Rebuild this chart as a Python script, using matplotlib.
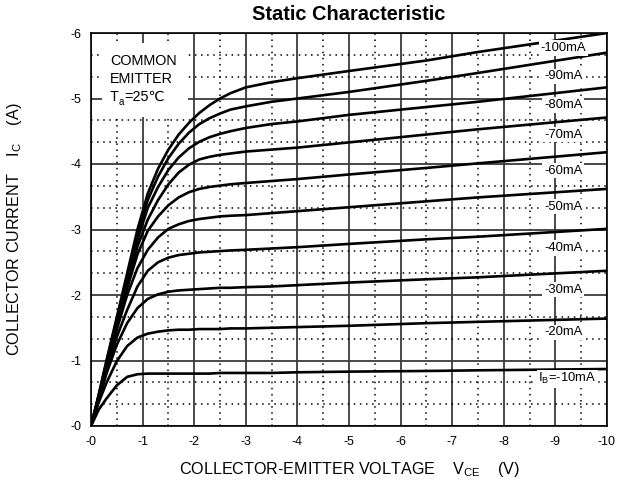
import matplotlib
matplotlib.use("Agg")
import matplotlib.pyplot as plt
from matplotlib.ticker import AutoMinorLocator
from matplotlib.patches import Rectangle

plt.rcParams['font.family'] = ['Liberation Sans', 'DejaVu Sans']
plt.rcParams['mathtext.fontset'] = 'custom'
plt.rcParams['mathtext.rm'] = 'Liberation Sans'
plt.rcParams['mathtext.it'] = 'Liberation Sans'

# ---- data (magnitudes; axes labelled negative) ----
vce = [0, 0.15, 0.3, 0.5, 0.7, 0.9, 1.1, 1.3, 1.5, 1.7, 1.9, 2.1, 2.3, 2.5, 2.7, 3.0, 3.5, 4.0, 5.0, 6.5, 7.5, 10.0]

ic_100 = [0, 0.48, 1.00, 1.66, 2.33, 3.00, 3.55, 3.93, 4.22, 4.45, 4.63, 4.78, 4.90, 5.00, 5.08, 5.17, 5.25, 5.31, 5.42, 5.58, 5.71, 6.00]
ic_90 = [0, 0.47, 0.98, 1.63, 2.28, 2.92, 3.45, 3.81, 4.09, 4.31, 4.48, 4.61, 4.70, 4.77, 4.83, 4.88, 4.95, 5.00, 5.10, 5.27, 5.39, 5.70]
ic_80 = [0, 0.46, 0.96, 1.60, 2.23, 2.84, 3.33, 3.65, 3.91, 4.10, 4.24, 4.34, 4.41, 4.46, 4.50, 4.55, 4.61, 4.65, 4.75, 4.87, 4.95, 5.17]
ic_70 = [0, 0.45, 0.94, 1.56, 2.17, 2.74, 3.15, 3.45, 3.69, 3.87, 3.99, 4.07, 4.11, 4.14, 4.16, 4.19, 4.22, 4.25, 4.33, 4.45, 4.53, 4.71]
ic_60 = [0, 0.44, 0.92, 1.52, 2.10, 2.62, 2.98, 3.20, 3.37, 3.49, 3.57, 3.62, 3.65, 3.67, 3.69, 3.71, 3.74, 3.77, 3.84, 3.94, 4.01, 4.18]
ic_50 = [0, 0.43, 0.90, 1.47, 2.00, 2.41, 2.69, 2.88, 3.01, 3.08, 3.13, 3.16, 3.18, 3.20, 3.21, 3.22, 3.25, 3.28, 3.34, 3.43, 3.49, 3.62]
ic_40 = [0, 0.42, 0.86, 1.36, 1.77, 2.13, 2.37, 2.50, 2.57, 2.61, 2.63, 2.65, 2.66, 2.67, 2.68, 2.69, 2.71, 2.73, 2.78, 2.85, 2.89, 3.01]
ic_30 = [0, 0.40, 0.80, 1.24, 1.57, 1.80, 1.94, 2.01, 2.05, 2.07, 2.08, 2.09, 2.10, 2.11, 2.11, 2.12, 2.13, 2.15, 2.19, 2.24, 2.27, 2.37]
ic_20 = [0, 0.36, 0.66, 0.99, 1.22, 1.35, 1.41, 1.44, 1.46, 1.47, 1.47, 1.48, 1.48, 1.48, 1.49, 1.49, 1.50, 1.51, 1.53, 1.57, 1.59, 1.64]
ic_10 = [0, 0.25, 0.42, 0.62, 0.75, 0.79, 0.80, 0.80, 0.80, 0.80, 0.80, 0.80, 0.80, 0.81, 0.81, 0.81, 0.81, 0.82, 0.83, 0.84, 0.85, 0.87]

curves = [ic_100, ic_90, ic_80, ic_70, ic_60, ic_50, ic_40, ic_30, ic_20, ic_10]
curve_labels = ['-100mA', '-90mA', '-80mA', '-70mA', '-60mA', '-50mA', '-40mA', '-30mA', '-20mA',
                r'I$_\mathregular{B}$=-10mA']
label_x = [9.15, 9.15, 9.15, 9.15, 9.15, 9.15, 9.15, 9.15, 9.15, 9.23]
label_y = [5.77, 5.34, 4.90, 4.45, 3.90, 3.35, 2.72, 2.08, 1.43, 0.72]

x_ticks = [0, 1, 2, 3, 4, 5, 6, 7, 8, 9, 10]
x_ticklabels = ['-0', '-1', '-2', '-3', '-4', '-5', '-6', '-7', '-8', '-9', '-10']
y_ticks = [0, 1, 2, 3, 4, 5, 6]
y_ticklabels = ['-0', '-1', '-2', '-3', '-4', '-5', '-6']

# ---- figure ----
fig = plt.figure(figsize=(6.17, 4.84), dpi=100)
ax = fig.add_axes([91/617, 1-426/484, (607-91)/617, (426-33)/484])
ax.set_xlim(0, 10)
ax.set_ylim(0, 6)

ax.set_xticks(x_ticks)
ax.set_xticklabels(x_ticklabels)
ax.set_yticks(y_ticks)
ax.set_yticklabels(y_ticklabels)
ax.xaxis.set_minor_locator(AutoMinorLocator(2))
ax.yaxis.set_minor_locator(AutoMinorLocator(3))
ax.tick_params(which='both', length=0, labelsize=9, pad=7)

ax.grid(which='major', color='#3a3a3a', linewidth=1.3, linestyle='-', zorder=0)
ax.grid(which='minor', color='black', linewidth=1.1, linestyle=(0, (1, 3)), zorder=0)
ax.set_axisbelow(True)
for s in ax.spines.values():
    s.set_color('black')
    s.set_linewidth(1.2)

for ic in curves:
    ax.plot(vce, ic, color='black', linewidth=1.9, solid_capstyle='butt',
            solid_joinstyle='round', zorder=2)

for lab, lx, ly in zip(curve_labels, label_x, label_y):
    ax.text(lx, ly, lab, fontsize=9.4, ha='center', va='center', zorder=4,
            bbox=dict(facecolor='white', edgecolor='none', pad=1.2))

# annotation block
ax.add_patch(Rectangle((0.21, 4.72), 1.67, 1.13, facecolor='white', edgecolor='none', zorder=3))
ax.text(0.37, 5.58, 'COMMON', fontsize=10.4, ha='left', va='center', zorder=4)
ax.text(0.37, 5.30, 'EMITTER', fontsize=10.4, ha='left', va='center', zorder=4)
t1 = ax.text(0.37, 5.02, 'T', fontsize=10.4, ha='left', va='center', zorder=4)
fig.canvas.draw()
inv = ax.transData.inverted()
bb1 = t1.get_window_extent()
x_a = inv.transform((bb1.x1, bb1.y0))[0]
t2 = ax.text(x_a, 4.94, 'a', fontsize=7, ha='left', va='center', zorder=4)
fig.canvas.draw()
bb2 = t2.get_window_extent()
x_r = inv.transform((bb2.x1, bb2.y0))[0]
ax.text(x_r, 5.02, '=25℃', fontsize=10.4, ha='left', va='center', zorder=4,
        family=['Liberation Sans', 'DejaVu Sans'])

ax.set_title('Static Characteristic', fontsize=14.4, fontweight='bold', pad=9)
ax.set_xlabel(r'COLLECTOR-EMITTER VOLTAGE    $\mathregular{V_{CE}}$    (V)', fontsize=11.6, labelpad=9)
ax.set_ylabel(r'COLLECTOR CURRENT    $\mathregular{I_C}$    (A)', fontsize=11.6, labelpad=33)

fig.savefig('out.png', dpi=100)
